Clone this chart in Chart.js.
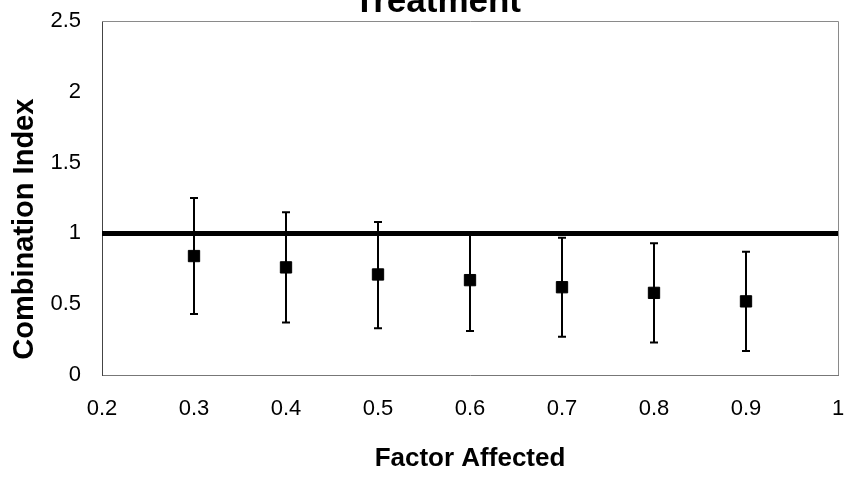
<!DOCTYPE html>
<html>
<head>
<meta charset="utf-8">
<script src="https://cdn.jsdelivr.net/npm/chart.js@4/dist/chart.umd.min.js"></script>
<style>
  html, body { margin: 0; padding: 0; background: #fff; }
  #wrap { width: 847px; height: 478px; }
</style>
</head>
<body>
<div id="wrap"><canvas id="ci-chart" width="847" height="478"></canvas></div>
<script>
// fraction affected vs. combination index, with error bars
const fa = [0.3, 0.4, 0.5, 0.6, 0.7, 0.8, 0.9];
const ci = [0.84, 0.76, 0.71, 0.67, 0.62, 0.58, 0.52];
const ciHigh = [1.25, 1.15, 1.08, 1.0, 0.97, 0.93, 0.87];
const ciLow = [0.43, 0.37, 0.33, 0.31, 0.27, 0.23, 0.17];

// additivity reference line CI = 1
const refX = [0.2, 1.0];
const refY = [1, 1];

const xTicks = [0.2, 0.3, 0.4, 0.5, 0.6, 0.7, 0.8, 0.9, 1];
const yTicks = [0, 0.5, 1, 1.5, 2, 2.5];

const FONT = '"Liberation Sans", Arial, sans-serif';

// draws the whiskers for each point
const errorBars = {
  id: 'errorBars',
  afterDatasetsDraw(chart) {
    const { ctx, scales: { x, y } } = chart;
    ctx.save();
    ctx.strokeStyle = '#000';
    ctx.lineWidth = 2;
    fa.forEach((v, i) => {
      const px = x.getPixelForValue(v);
      const top = y.getPixelForValue(ciHigh[i]);
      const bot = y.getPixelForValue(ciLow[i]);
      ctx.beginPath();
      ctx.moveTo(px, top); ctx.lineTo(px, bot);
      ctx.moveTo(px - 4, top); ctx.lineTo(px + 4, top);
      ctx.moveTo(px - 4, bot); ctx.lineTo(px + 4, bot);
      ctx.stroke();
    });
    ctx.restore();
  }
};

// frame around the plot, the y title and the (cropped) chart title
const frame = {
  id: 'frame',
  beforeDatasetsDraw(chart) {
    const { ctx, chartArea: a } = chart;
    ctx.save();
    ctx.strokeStyle = '#8a8a8a';
    ctx.lineWidth = 1;
    ctx.beginPath();
    ctx.moveTo(a.left, a.top + 0.5); ctx.lineTo(a.right + 0.5, a.top + 0.5);
    ctx.lineTo(a.right + 0.5, a.bottom);
    ctx.stroke();
    ctx.restore();
  },
  afterDraw(chart) {
    const { ctx, scales: { y } } = chart;
    ctx.save();
    ctx.fillStyle = '#000';

    ctx.font = 'bold 35px ' + FONT;
    ctx.textAlign = 'right';
    ctx.textBaseline = 'alphabetic';
    ctx.fillText('Treatment', 521, 12);

    ctx.font = 'bold 29px ' + FONT;
    ctx.textAlign = 'center';
    ctx.textBaseline = 'middle';
    ctx.translate(25, y.getPixelForValue(1.03));
    ctx.rotate(-Math.PI / 2);
    ctx.fillText('Combination Index', 0, 0);
    ctx.restore();
  }
};

new Chart(document.getElementById('ci-chart').getContext('2d'), {
  type: 'scatter',
  data: {
    datasets: [
      {
        label: 'CI = 1',
        data: refX.map((v, i) => ({ x: v, y: refY[i] })),
        showLine: true,
        borderColor: '#000',
        borderWidth: 5,
        pointRadius: 0,
        order: 2
      },
      {
        label: 'Combination Index',
        data: fa.map((v, i) => ({ x: v, y: ci[i] })),
        pointStyle: 'rect',
        pointRadius: 8,
        backgroundColor: '#000',
        borderColor: '#000',
        borderWidth: 1,
        order: 1
      }
    ]
  },
  options: {
    responsive: false,
    animation: false,
    layout: { padding: { top: 21, right: 4, left: 0, bottom: 0 } },
    plugins: {
      legend: { display: false },
      tooltip: { enabled: false }
    },
    scales: {
      x: {
        type: 'linear',
        min: 0.2,
        max: 1,
        afterBuildTicks: (s) => { s.ticks = xTicks.map(v => ({ value: v })); },
        afterFit: (s) => { s.height = 103; s.paddingLeft = 0; s.paddingRight = 0; },
        grid: { display: false, drawTicks: true, tickLength: 5, tickColor: '#555' },
        border: { color: '#777', width: 1 },
        ticks: {
          color: '#000',
          padding: 16,
          font: { family: FONT, size: 22 },
          callback: (v) => String(v)
        },
        title: {
          display: true,
          text: 'Factor Affected',
          color: '#000',
          font: { family: FONT, size: 26, weight: 'bold' },
          padding: { top: 10 }
        }
      },
      y: {
        min: 0,
        max: 2.5,
        afterBuildTicks: (s) => { s.ticks = yTicks.map(v => ({ value: v })); },
        afterFit: (s) => { s.width = 102; s.paddingTop = 0; s.paddingBottom = 0; },
        grid: { display: false, drawTicks: true, tickLength: 5, tickColor: '#555' },
        border: { color: '#444', width: 1 },
        ticks: {
          color: '#000',
          padding: 16,
          font: { family: FONT, size: 22 },
          callback: (v) => String(v)
        }
      }
    }
  },
  plugins: [errorBars, frame]
});
</script>
</body>
</html>
